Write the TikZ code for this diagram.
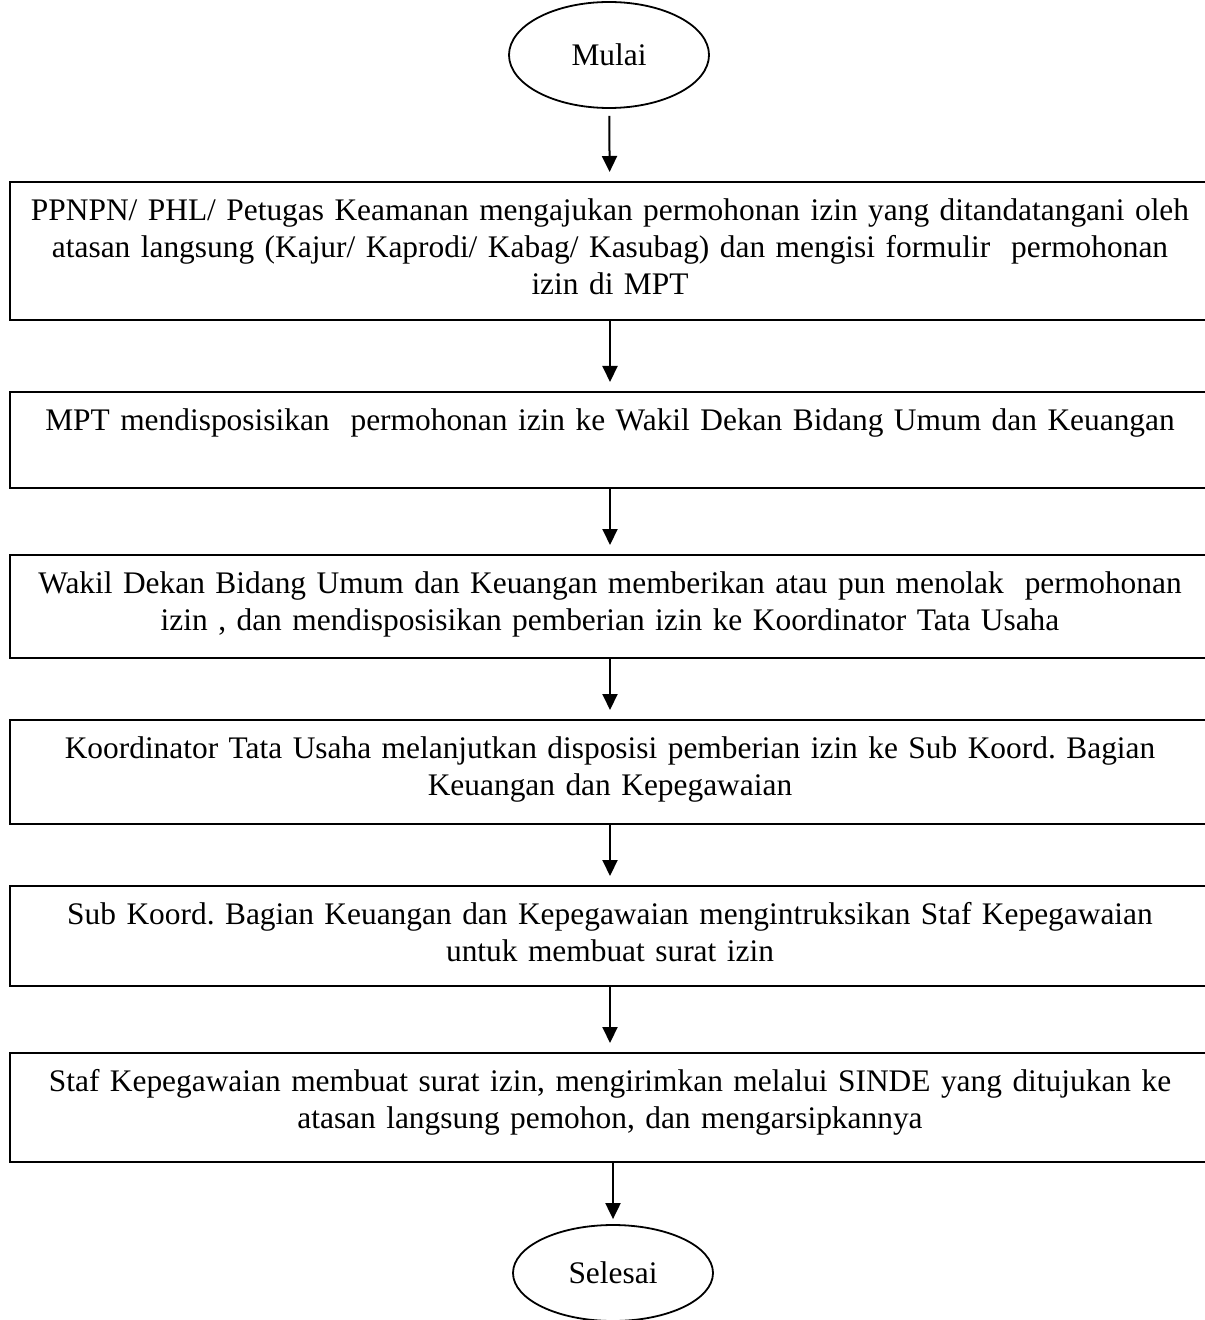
\documentclass[tikz,border=0pt]{standalone}
\usepackage{fontspec}
\setmainfont{Liberation Serif}
\frenchspacing
\usetikzlibrary{shapes.geometric,arrows.meta}

\begin{document}
\begin{tikzpicture}[
    x=0.5pt, y=-0.5pt,
    font=\fontsize{15.7}{18.5}\selectfont,
    terminal/.style={
        draw,
        shape=ellipse,
        line width=0.9pt,
        minimum width=100pt,
        minimum height=#1,
        inner sep=0pt,
    },
    stepbox/.style={
        draw,
        line width=1pt,
        anchor=north,
        minimum width=600pt,
        inner xsep=5pt,
        inner ysep=0pt,
        text width=590pt,
        align=center,
        text height=19.25pt,   %first baseline below top line
        text depth=#1-19.25pt, %rest of the box
    },
    flow/.style={
        -{Triangle[length=8pt,width=7.5pt]},
        line width=1pt,
        shorten >=4.5pt,
    },
]

\useasboundingbox (0,0) rectangle (1204,1320);

\node[terminal=53pt] (mulai) at (609,55) {Mulai};

\node[stepbox=69pt] (b1) at (610,181)
    {PPNPN/ PHL/ Petugas Keamanan mengajukan permohonan izin yang ditandatangani oleh\\
     atasan langsung (Kajur/ Kaprodi/ Kabag/ Kasubag) dan mengisi formulir\ \ permohonan\\
     izin di MPT};
\node[stepbox=48pt] (b2) at (610,391)
    {MPT mendisposisikan\ \ permohonan izin ke Wakil Dekan Bidang Umum dan Keuangan};
\node[stepbox=51.5pt] (b3) at (610,554)
    {Wakil Dekan Bidang Umum dan Keuangan memberikan atau pun menolak\ \ permohonan\\
     izin , dan mendisposisikan pemberian izin ke Koordinator Tata Usaha};
\node[stepbox=52pt] (b4) at (610,719)
    {Koordinator Tata Usaha melanjutkan disposisi pemberian izin ke Sub Koord. Bagian\\
     Keuangan dan Kepegawaian};
\node[stepbox=50pt] (b5) at (610,885)
    {Sub Koord. Bagian Keuangan dan Kepegawaian mengintruksikan Staf Kepegawaian\\
     untuk membuat surat izin};
\node[stepbox=54.5pt] (b6) at (610,1052)
    {Staf Kepegawaian membuat surat izin, mengirimkan melalui SINDE yang ditujukan ke\\
     atasan langsung pemohon, dan mengarsipkannya};

\node[terminal=48pt] (selesai) at (613,1273) {Selesai};

\draw[flow, shorten <=3.5pt] (mulai) -- (b1);
\foreach \a/\b in {b1/b2, b2/b3, b3/b4, b4/b5, b5/b6}
    \draw[flow] (\a) -- (\b);
\draw[flow, shorten >=2.5pt] (b6.south -| selesai) -- (selesai);

\end{tikzpicture}
\end{document}
